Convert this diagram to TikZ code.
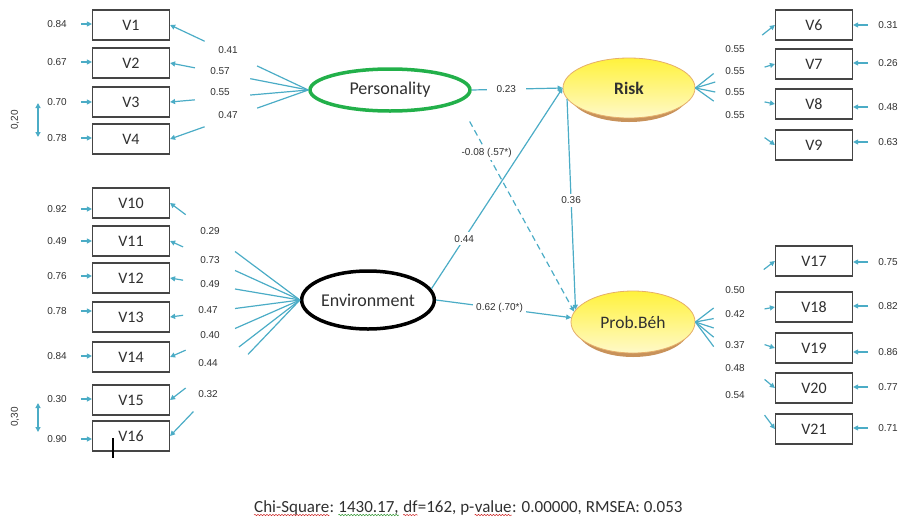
\documentclass[tikz,border=0pt]{standalone}
\usepackage{fontspec}
\setmainfont{Carlito}
\newfontfamily\labfont{Liberation Sans}
\usetikzlibrary{arrows.meta,shapes.geometric,decorations.pathmorphing,calc}
\definecolor{ac}{HTML}{4BACC6}
\definecolor{txt}{HTML}{303030}
\definecolor{boxc}{HTML}{454545}
\definecolor{grn}{HTML}{22B04A}
\definecolor{ylw}{HTML}{FFF23C}
\definecolor{ylwl}{HTML}{FFF9C8}
\definecolor{orb}{HTML}{E5AE6A}
\definecolor{shc}{HTML}{C8925A}
\definecolor{squr}{HTML}{D03030}
\definecolor{squg}{HTML}{3A9A3A}
\tikzset{
  vbox/.style={draw=boxc, line width=1.2pt, minimum width=77pt, minimum height=30pt, inner sep=0pt, text=txt, font=\fontsize{16}{16}\selectfont},
  lbl/.style={font=\labfont\fontsize{10}{10}\selectfont, text=txt, inner sep=1pt},
  lab/.style={lbl, fill=white, inner sep=3pt},
  ld/.style={draw=ac, line width=1.2pt, -{Triangle[length=5pt,width=5pt]}},
  lfan/.style={draw=ac, line width=1.2pt},
  ldd/.style={draw=ac, line width=1.2pt, {Triangle[length=5pt,width=5pt]}-{Triangle[length=5pt,width=5pt]}},
  latent/.style={ellipse, inner sep=0pt, text=txt},
  yel/.style={latent, draw=orb, line width=0.8pt, top color=ylw, bottom color=ylwl, font=\fontsize{17.5}{17.5}\selectfont},
  sq/.style={decorate, decoration={snake, amplitude=0.7pt, segment length=3pt}, line width=0.5pt},
  piece/.style={anchor=base west, inner sep=0pt, text=txt, font=\fontsize{17}{17}\selectfont}
}
% broken loading path: from, to, end of fan part, start of arrow part
\newcommand\mylp[4]{%
  \draw[lfan] (#1) -- ($(#1)!#3!(#2)$);
  \draw[ld] ($(#1)!#4!(#2)$) -- (#2);}
\begin{document}
\begin{tikzpicture}[x=1pt,y=-1pt]
\useasboundingbox (0,0) rectangle (900,520);

% observed variables, left
\node[vbox] (v1) at (131,25) {V1};
\node[vbox] (v2) at (131,63) {V2};
\node[vbox] (v3) at (131,102) {V3};
\node[vbox] (v4) at (131,139) {V4};
\node[vbox] (v10) at (131,203) {V10};
\node[vbox] (v11) at (131,241) {V11};
\node[vbox] (v12) at (131,278) {V12};
\node[vbox] (v13) at (131,317) {V13};
\node[vbox] (v14) at (131,357) {V14};
\node[vbox] (v15) at (131,400) {V15};
\node[vbox] (v16) at (131,436) {V16};
% observed variables, right
\node[vbox] (v6) at (814,25) {V6};
\node[vbox] (v7) at (814,64) {V7};
\node[vbox] (v8) at (814,104) {V8};
\node[vbox] (v9) at (814,145) {V9};
\node[vbox] (v17) at (814,261) {V17};
\node[vbox] (v18) at (814,307) {V18};
\node[vbox] (v19) at (814,348) {V19};
\node[vbox] (v20) at (814,388) {V20};
\node[vbox] (v21) at (814,429) {V21};

% latent variables
\node[latent, draw=grn, line width=3.5pt, minimum width=160pt, minimum height=42pt, font=\fontsize{18}{18}\selectfont] (P) at (390,90) {Personality};
\node[latent, draw=black, line width=3.5pt, minimum width=128pt, minimum height=58pt, font=\fontsize{18}{18}\selectfont] (E) at (368,300) {Environment};
\fill[shc] (629,93) ellipse [x radius=60pt, y radius=29pt];
\node[yel, minimum width=132pt, minimum height=60pt] (R) at (629,88) {\bfseries Risk};
\fill[shc] (633,327) ellipse [x radius=57pt, y radius=30pt];
\node[yel, minimum width=124pt, minimum height=62pt] (B) at (633,322) {Prob.Béh};

% error terms, left
\foreach \n/\y/\t in {1/24/0.84, 2/62/0.67, 3/102/0.70, 4/138/0.78, 10/209/0.92, 11/241/0.49, 12/276/0.76, 13/311/0.78, 14/356/0.84, 15/399/0.30, 16/439/0.90}{
  \node[lbl] (e\n) at (57,\y) {\t};
  \draw[ld, shorten <=13pt] (e\n.east) -- (e\n.east -| v\n.west);
}
% error terms, right
\foreach \n/\y/\t in {6/25/0.31, 7/63/0.26, 8/107/0.48, 9/142/0.63, 17/262/0.75, 18/306/0.82, 19/352/0.86, 20/387/0.77, 21/428/0.71}{
  \node[lbl] (e\n) at (888,\y) {\t};
  \draw[ld, shorten <=9pt] (e\n.west) -- (e\n.west -| v\n.east);
}

% error covariances
\coordinate (c3) at (38,103);
\coordinate (c4) at (38,137);
\draw[ldd] (c3) -- (c4);
\node[lbl, rotate=90] (k34) at (15,120) {0,20};
\coordinate (c15) at (38,403);
\coordinate (c16) at (38,432);
\draw[ldd] (c15) -- (c16);
\node[lbl, rotate=90] (k1516) at (15,417) {0,30};

% loadings, Personality
\mylp{P.west}{v1.east}{0.37}{0.75}
\mylp{P.west}{v2.east}{0.42}{0.82}
\mylp{P.west}{v3.east}{0.42}{0.82}
\mylp{P.west}{v4.east}{0.37}{0.75}
\node[lbl] (l1) at (228,50) {0.41};
\node[lbl] (l2) at (220,71) {0.57};
\node[lbl] (l3) at (220,92) {0.55};
\node[lbl] (l4) at (228,115) {0.47};
% loadings, Environment
\mylp{E.west}{v10.east}{0.50}{0.88}
\mylp{E.west}{v11.east}{0.50}{0.90}
\mylp{E.west}{v12.east}{0.50}{0.90}
\mylp{E.west}{v13.east}{0.50}{0.90}
\mylp{E.west}{v14.east}{0.50}{0.88}
\mylp{E.west}{v15.east}{0.47}{0.88}
\mylp{E.west}{v16.east}{0.40}{0.82}
\node[lbl] (l10) at (210,231) {0.29};
\node[lbl] (l11) at (210,260) {0.73};
\node[lbl] (l12) at (210,284) {0.49};
\node[lbl] (l13) at (208,310) {0.47};
\node[lbl] (l14) at (210,335) {0.40};
\node[lbl] (l15) at (208,363) {0.44};
\node[lbl] (l16) at (208,394) {0.32};
% loadings, Risk
\mylp{R.east}{v6.west}{0.23}{0.84}
\mylp{R.east}{v7.west}{0.25}{0.87}
\mylp{R.east}{v8.west}{0.25}{0.87}
\mylp{R.east}{v9.west}{0.23}{0.87}
\node[lbl] (l6) at (735,49) {0.55};
\node[lbl] (l7) at (735,71) {0.55};
\node[lbl] (l8) at (735,92) {0.55};
\node[lbl] (l9) at (735,115) {0.55};
% loadings, Prob.Béh
\mylp{B.east}{v17.west}{0.23}{0.86}
\mylp{B.east}{v18.west}{0.23}{0.87}
\mylp{B.east}{v19.west}{0.23}{0.87}
\mylp{B.east}{v20.west}{0.23}{0.87}
\mylp{B.east}{v21.west}{0.23}{0.87}
\node[lbl] (l17) at (735,290) {0.50};
\node[lbl] (l18) at (735,314) {0.42};
\node[lbl] (l19) at (735,345) {0.37};
\node[lbl] (l20) at (735,368) {0.48};
\node[lbl] (l21) at (735,395) {0.54};

% structural paths
\draw[ld] (P.east) -- node[lab, pos=0.38, inner xsep=10pt] {0.23} (R.west);
\draw[ld] (E.10) -- node[lab, pos=0.25] {0.44} (R.west);
\draw[ld, dash pattern=on 6pt off 4pt, shorten <=22pt] (P.-10) -- node[lab, pos=0.24] {-0.08 (.57*)} (B.170);
\draw[ld] (R.190) -- node[lab, pos=0.48] {0.36} (B.168);
\draw[ld] (E.east) -- node[lab, pos=0.47] {0.62 (.70*)} (B.176);

% text cursor
\draw[black, line width=1.5pt] (113,438) -- (113,458);

% fit statistics
\node[piece] (t1) at (254,512) {Chi-Square};
\node[piece] (t2) at (t1.base east) {:\ \null};
\node[piece] (t3) at (t2.base east) {1430.17,};
\node[piece] (t4) at (t3.base east) {\ \null};
\node[piece] (t5) at (t4.base east) {df};
\node[piece] (t6) at (t5.base east) {=162, p-};
\node[piece] (t7) at (t6.base east) {value};
\node[piece] (t8) at (t7.base east) {: 0.00000, RMSEA: 0.053};
\draw[sq, squr] ([yshift=-3pt]t1.base west) -- ([yshift=-3pt]t1.base east);
\draw[sq, squg] ([yshift=-3pt]t3.base west) -- ([yshift=-3pt]t3.base east);
\draw[sq, squr] ([yshift=-3pt]t5.base west) -- ([yshift=-3pt]t5.base east);
\draw[sq, squr] ([yshift=-3pt]t7.base west) -- ([yshift=-3pt]t7.base east);
\end{tikzpicture}
\end{document}
